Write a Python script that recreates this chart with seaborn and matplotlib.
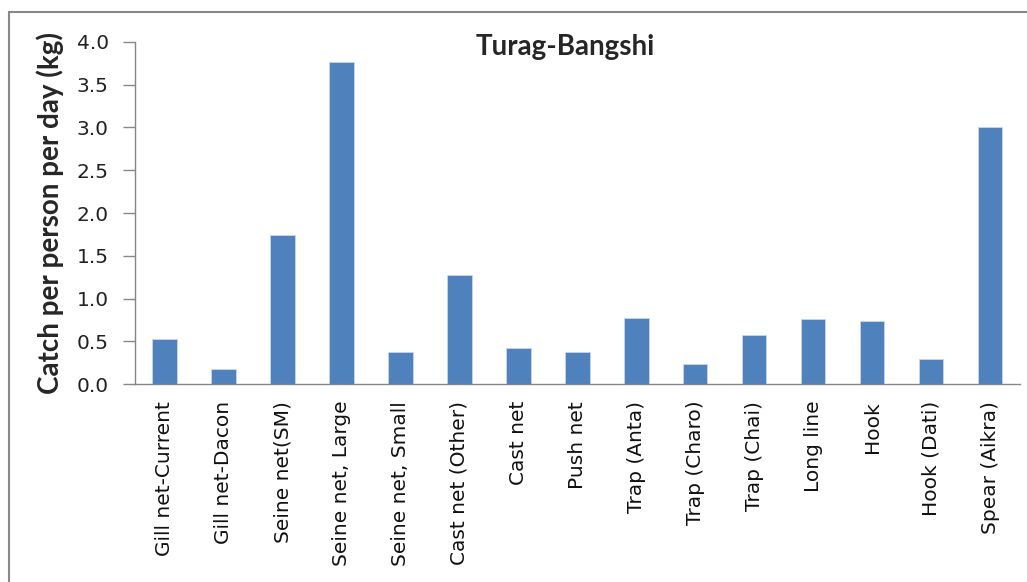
import numpy as np
import pandas as pd
import matplotlib
matplotlib.use("Agg")
import matplotlib.pyplot as plt
import seaborn as sns
from matplotlib.patches import Rectangle

# data
gears = ['Gill net-Current', 'Gill net-Dacon', 'Seine net(SM)', 'Seine net, Large',
         'Seine net, Small', 'Cast net (Other)', 'Cast net', 'Push net', 'Trap (Anta)',
         'Trap (Charo)', 'Trap (Chai)', 'Long line', 'Hook', 'Hook (Dati)', 'Spear (Aikra)']
catch = [0.53, 0.18, 1.74, 3.76, 0.38, 1.27, 0.42, 0.38, 0.77, 0.24, 0.57, 0.76, 0.74, 0.29, 3.00]
yticks = [0.0, 0.5, 1.0, 1.5, 2.0, 2.5, 3.0, 3.5, 4.0]

df = pd.DataFrame({'gear': gears, 'catch': catch})

sns.set_style("white")
plt.rcParams['font.family'] = ['DejaVu Sans']

fig = plt.figure(figsize=(10.27, 5.82), dpi=100)
ax = fig.add_axes([0.1315, 0.340, 0.8615, 0.588])

sns.barplot(data=df, x='gear', y='catch', color='#4F81BD', width=0.41,
            edgecolor='#C9D6EA', linewidth=0.6, saturation=1, ax=ax)

ax.set_ylim(0, 4.0)
ax.set_xlim(-0.5, len(gears) - 0.5)
ax.set_yticks(yticks)
ax.set_yticklabels([f'{v:.1f}' for v in yticks], fontsize=14.5, color='#222222')
ax.set_xticks(range(len(gears)))
ax.set_xticklabels(gears, rotation=90, fontsize=14.5, color='#111111')
ax.tick_params(axis='x', length=0, pad=12)
ax.set_xticks(np.arange(-0.5, len(gears)), minor=True)
ax.tick_params(axis='x', which='minor', length=9, color='#868686', width=1)
ax.tick_params(axis='y', length=9, color='#868686', width=1, left=True, pad=10)

for side in ['top', 'right']:
    ax.spines[side].set_visible(False)
for side in ['left', 'bottom']:
    ax.spines[side].set_color('#868686')
    ax.spines[side].set_linewidth(1)

ax.set_xlabel('')
ax.set_ylabel('Catch per person per day (kg)', fontsize=20, fontweight='bold',
              family='Lato', labelpad=9)

fig.text(565 / 1027, 1 - 47 / 582, 'Turag-Bangshi', ha='center', va='center',
         fontsize=20, fontweight='bold', family='Lato')

# chart frame (Excel-like border, cut at right and bottom)
fig.patches.append(Rectangle((9 / 1027, -0.05), 1.05, 1 - 12 / 582 + 0.05,
                             transform=fig.transFigure, fill=False,
                             edgecolor='#888888', linewidth=1.5))

fig.savefig('out.png', dpi=100)
